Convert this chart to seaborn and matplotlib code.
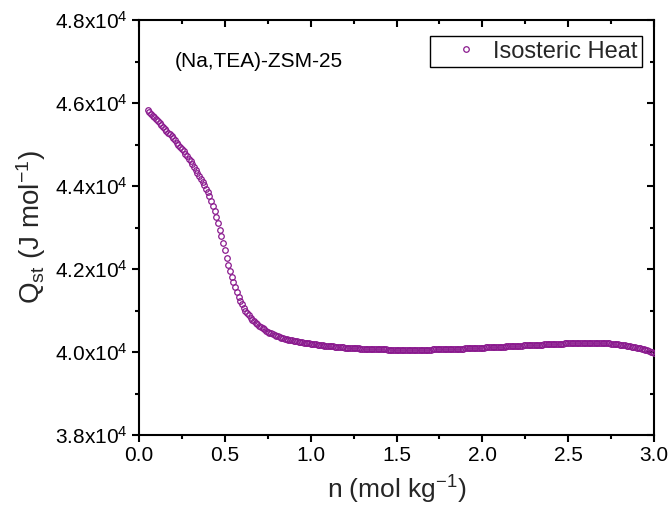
import matplotlib
matplotlib.use("Agg")
import matplotlib.pyplot as plt
import matplotlib.lines as mlines
import seaborn as sns
import pandas as pd
from matplotlib.ticker import FixedLocator, MultipleLocator

# ---------------- data ----------------
n_values = [
    0.05, 0.06, 0.07, 0.08, 0.09,
    0.10, 0.11, 0.12, 0.13, 0.14, 0.15, 0.16, 0.17, 0.18, 0.19,
    0.20, 0.21, 0.22, 0.23, 0.24, 0.25, 0.26, 0.27, 0.28, 0.29,
    0.30, 0.31, 0.32, 0.33, 0.34, 0.35, 0.36, 0.37, 0.38, 0.39,
    0.40, 0.41, 0.42, 0.43, 0.44, 0.45, 0.46, 0.47, 0.48, 0.49,
    0.50, 0.51, 0.52, 0.53, 0.54, 0.55, 0.56, 0.57, 0.58, 0.59,
    0.60, 0.61, 0.62, 0.63, 0.64, 0.65, 0.66, 0.67, 0.68, 0.69,
    0.70, 0.71, 0.72, 0.73, 0.74, 0.75, 0.76, 0.77, 0.78, 0.79,
    0.80, 0.81, 0.82, 0.83, 0.84, 0.85, 0.86, 0.87, 0.88, 0.89,
    0.90, 0.91, 0.92, 0.93, 0.94, 0.95, 0.96, 0.97, 0.98, 0.99,
    1.00, 1.01, 1.02, 1.03, 1.04, 1.05, 1.06, 1.07, 1.08, 1.09,
    1.10, 1.11, 1.12, 1.13, 1.14, 1.15, 1.16, 1.17, 1.18, 1.19,
    1.20, 1.21, 1.22, 1.23, 1.24, 1.25, 1.26, 1.27, 1.28, 1.29,
    1.30, 1.31, 1.32, 1.33, 1.34, 1.35, 1.36, 1.37, 1.38, 1.39,
    1.40, 1.41, 1.42, 1.43, 1.44, 1.45, 1.46, 1.47, 1.48, 1.49,
    1.50, 1.51, 1.52, 1.53, 1.54, 1.55, 1.56, 1.57, 1.58, 1.59,
    1.60, 1.61, 1.62, 1.63, 1.64, 1.65, 1.66, 1.67, 1.68, 1.69,
    1.70, 1.71, 1.72, 1.73, 1.74, 1.75, 1.76, 1.77, 1.78, 1.79,
    1.80, 1.81, 1.82, 1.83, 1.84, 1.85, 1.86, 1.87, 1.88, 1.89,
    1.90, 1.91, 1.92, 1.93, 1.94, 1.95, 1.96, 1.97, 1.98, 1.99,
    2.00, 2.01, 2.02, 2.03, 2.04, 2.05, 2.06, 2.07, 2.08, 2.09,
    2.10, 2.11, 2.12, 2.13, 2.14, 2.15, 2.16, 2.17, 2.18, 2.19,
    2.20, 2.21, 2.22, 2.23, 2.24, 2.25, 2.26, 2.27, 2.28, 2.29,
    2.30, 2.31, 2.32, 2.33, 2.34, 2.35, 2.36, 2.37, 2.38, 2.39,
    2.40, 2.41, 2.42, 2.43, 2.44, 2.45, 2.46, 2.47, 2.48, 2.49,
    2.50, 2.51, 2.52, 2.53, 2.54, 2.55, 2.56, 2.57, 2.58, 2.59,
    2.60, 2.61, 2.62, 2.63, 2.64, 2.65, 2.66, 2.67, 2.68, 2.69,
    2.70, 2.71, 2.72, 2.73, 2.74, 2.75, 2.76, 2.77, 2.78, 2.79,
    2.80, 2.81, 2.82, 2.83, 2.84, 2.85, 2.86, 2.87, 2.88, 2.89,
    2.90, 2.91, 2.92, 2.93, 2.94, 2.95, 2.96, 2.97, 2.98, 2.99,
    3.00,
]

qst_values = [
    45820, 45779, 45737, 45695, 45653,
    45610, 45565, 45520, 45475, 45428, 45380, 45334, 45288, 45242, 45196,
    45150, 45099, 45047, 44995, 44943, 44890, 44834, 44777, 44719, 44660,
    44600, 44533, 44465, 44395, 44323, 44250, 44173, 44095, 44015, 43933,
    43850, 43748, 43642, 43530, 43395, 43250, 43100, 42950, 42790, 42620,
    42450, 42275, 42100, 41945, 41800, 41675, 41560, 41443, 41330, 41237,
    41150, 41072, 41000, 40937, 40880, 40828, 40780, 40738, 40700, 40664,
    40630, 40600, 40572, 40545, 40517, 40490, 40468, 40447, 40427, 40408,
    40390, 40375, 40361, 40346, 40333, 40320, 40309, 40298, 40288, 40279,
    40270, 40262, 40255, 40248, 40241, 40235, 40228, 40221, 40214, 40207,
    40200, 40194, 40188, 40182, 40177, 40172, 40166, 40161, 40155, 40150,
    40145, 40141, 40137, 40133, 40129, 40125, 40121, 40117, 40113, 40109,
    40105, 40102, 40100, 40097, 40095, 40092, 40090, 40087, 40085, 40082,
    40080, 40078, 40077, 40075, 40074, 40072, 40071, 40069, 40068, 40066,
    40065, 40064, 40063, 40062, 40061, 40060, 40059, 40058, 40057, 40056,
    40055, 40055, 40054, 40054, 40054, 40054, 40054, 40054, 40054, 40055,
    40055, 40055, 40056, 40056, 40057, 40057, 40058, 40058, 40059, 40059,
    40060, 40061, 40062, 40063, 40064, 40065, 40066, 40067, 40068, 40069,
    40070, 40071, 40073, 40074, 40076, 40077, 40079, 40080, 40082, 40083,
    40085, 40087, 40089, 40091, 40093, 40095, 40097, 40099, 40101, 40103,
    40105, 40107, 40109, 40111, 40113, 40115, 40117, 40119, 40121, 40123,
    40125, 40127, 40130, 40132, 40135, 40137, 40140, 40142, 40145, 40147,
    40150, 40152, 40154, 40156, 40158, 40160, 40162, 40164, 40166, 40168,
    40170, 40172, 40174, 40176, 40178, 40180, 40182, 40184, 40186, 40188,
    40190, 40192, 40194, 40196, 40198, 40200, 40202, 40204, 40206, 40208,
    40210, 40212, 40213, 40215, 40216, 40218, 40219, 40221, 40222, 40224,
    40225, 40226, 40227, 40228, 40228, 40228, 40228, 40227, 40225, 40223,
    40220, 40217, 40214, 40210, 40206, 40202, 40198, 40194, 40190, 40185,
    40180, 40175, 40168, 40162, 40155, 40148, 40140, 40132, 40124, 40115,
    40105, 40095, 40085, 40074, 40062, 40050, 40038, 40024, 40009, 39992,
    39970,
]

series_label = "Isosteric Heat"
sample_label = "(Na,TEA)-ZSM-25"

x_ticks = [0.0, 0.5, 1.0, 1.5, 2.0, 2.5, 3.0]
x_tick_labels = ["0.0", "0.5", "1.0", "1.5", "2.0", "2.5", "3.0"]
y_ticks = [38000, 40000, 42000, 44000, 46000, 48000]
y_tick_labels = [r"3.8x10$^{\mathregular{4}}$", r"4.0x10$^{\mathregular{4}}$",
                 r"4.2x10$^{\mathregular{4}}$", r"4.4x10$^{\mathregular{4}}$",
                 r"4.6x10$^{\mathregular{4}}$", r"4.8x10$^{\mathregular{4}}$"]

# ---------------- style ----------------
sns.set_theme(style="white")
plt.rcParams["font.family"] = ["Liberation Sans", "DejaVu Sans"]
plt.rcParams["mathtext.fontset"] = "custom"
plt.rcParams["mathtext.rm"] = "Liberation Sans"
plt.rcParams["mathtext.it"] = "Liberation Sans:italic"
plt.rcParams["mathtext.bf"] = "Liberation Sans:bold"
plt.rcParams["mathtext.default"] = "regular"

purple = "#8A1A8E"
tick_w = 1.5

df = pd.DataFrame({"n": n_values, "Qst": qst_values})

fig = plt.figure(figsize=(6.72, 5.15), dpi=100)
ax = fig.add_axes([139 / 672, 1 - 435 / 515, (654 - 139) / 672, (435 - 20) / 515])

sns.lineplot(data=df, x="n", y="Qst", ax=ax, linestyle="", marker="o",
             markersize=4.0, markerfacecolor="none", markeredgecolor=purple,
             markeredgewidth=0.9, label=series_label, sort=False, zorder=3)

ax.set_xlim(0, 3.0)
ax.set_ylim(38000, 48000)
ax.xaxis.set_major_locator(FixedLocator(x_ticks))
ax.set_xticklabels(x_tick_labels)
ax.yaxis.set_major_locator(FixedLocator(y_ticks))
ax.set_yticklabels(y_tick_labels)
ax.xaxis.set_minor_locator(MultipleLocator(0.25))
ax.yaxis.set_minor_locator(MultipleLocator(1000))

for sp in ax.spines.values():
    sp.set_visible(True)
    sp.set_color("black")
    sp.set_linewidth(1.5)

ax.tick_params(axis="both", which="both", bottom=True, left=True, top=True, right=True,
               labeltop=False, labelright=False, direction="out", width=tick_w,
               colors="black")
ax.tick_params(axis="both", which="major", length=5.2, labelsize=15, pad=3)
ax.tick_params(axis="both", which="minor", length=3.0)

ax.set_xlabel(r"n (mol kg$^{-1}$)", fontsize=19, labelpad=6)
ax.set_ylabel(r"Q$_{\mathregular{st}}$ (J mol$^{-1}$)", fontsize=20, labelpad=5)

ax.text(0.070, 0.899, sample_label, transform=ax.transAxes, fontsize=15,
        ha="left", va="center", color="black")

leg = ax.legend(loc="upper right", bbox_to_anchor=((642 - 139) / 515, (435 - 36) / 415),
                borderaxespad=0.0, fontsize=17, frameon=True, fancybox=False,
                edgecolor="black", framealpha=1,
                handlelength=2.6, handletextpad=-0.15, borderpad=0.2,
                markerscale=1.0)
leg.get_frame().set_linewidth(1.0)
leg.set_zorder(10)

# top and right ticks point inward (Origin style), bottom and left point outward
fig.canvas.draw()
for t in ax.xaxis.get_major_ticks() + ax.xaxis.get_minor_ticks():
    t.tick2line.set_marker(mlines.TICKDOWN)
for t in ax.yaxis.get_major_ticks() + ax.yaxis.get_minor_ticks():
    t.tick2line.set_marker(mlines.TICKLEFT)

fig.savefig("out.png", dpi=100)
